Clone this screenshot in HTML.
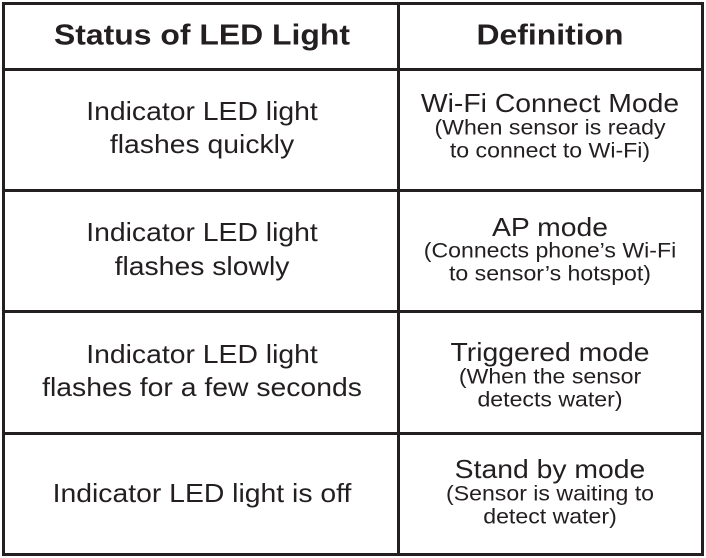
<!DOCTYPE html>
<html><head><style>
body{margin:0;width:706px;height:558px;background:#fff;position:relative;overflow:hidden;font-family:"Liberation Sans",sans-serif;color:#231f20}
.l{position:absolute;background:#231f20}
.t{position:absolute;white-space:nowrap;line-height:1}
.h{font-weight:bold;font-size:29px;transform:translate(-50%,-50%) scaleX(1.1)}
.m{font-size:26px;transform:translate(-50%,-50%) scaleX(1.09)}
.s{font-size:21px;transform:translate(-50%,-50%) scaleX(1.1)}
</style></head><body>
<div class="l" style="left:2px;top:2px;width:702px;height:3px"></div>
<div class="l" style="left:2px;top:553px;width:702px;height:3px"></div>
<div class="l" style="left:2px;top:2px;width:3px;height:554px"></div>
<div class="l" style="left:701px;top:2px;width:3px;height:554px"></div>
<div class="l" style="left:397px;top:2px;width:3px;height:554px"></div>
<div class="l" style="left:2px;top:68px;width:702px;height:3px"></div>
<div class="l" style="left:2px;top:189px;width:702px;height:3px"></div>
<div class="l" style="left:2px;top:310px;width:702px;height:3px"></div>
<div class="l" style="left:2px;top:432px;width:702px;height:3px"></div>

<div class="t h" style="left:202px;top:36px">Status of LED Light</div>
<div class="t h" style="left:550px;top:36px">Definition</div>

<div class="t m" style="left:202px;top:111px">Indicator LED light</div>
<div class="t m" style="left:202px;top:144px">flashes quickly</div>
<div class="t m" style="left:550px;top:103px">Wi-Fi Connect Mode</div>
<div class="t s" style="left:550px;top:128px">(When sensor is ready</div>
<div class="t s" style="left:550px;top:151px">to connect to Wi-Fi)</div>

<div class="t m" style="left:202px;top:232px">Indicator LED light</div>
<div class="t m" style="left:202px;top:266px">flashes slowly</div>
<div class="t m" style="left:550px;top:227px">AP mode</div>
<div class="t s" style="left:550px;top:251px">(Connects phone’s Wi-Fi</div>
<div class="t s" style="left:550px;top:274px">to sensor’s hotspot)</div>

<div class="t m" style="left:202px;top:354px">Indicator LED light</div>
<div class="t m" style="left:202px;top:387px">flashes for a few seconds</div>
<div class="t m" style="left:550px;top:352px">Triggered mode</div>
<div class="t s" style="left:550px;top:377px">(When the sensor</div>
<div class="t s" style="left:550px;top:400px">detects water)</div>

<div class="t m" style="left:202px;top:493px">Indicator LED light is off</div>
<div class="t m" style="left:550px;top:469px">Stand by mode</div>
<div class="t s" style="left:550px;top:494px">(Sensor is waiting to</div>
<div class="t s" style="left:550px;top:517px">detect water)</div>
</body></html>
